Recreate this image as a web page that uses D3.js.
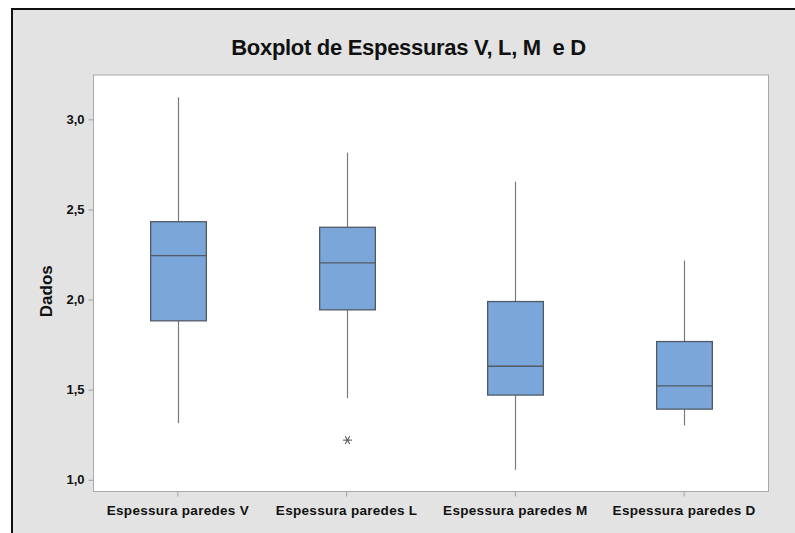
<!DOCTYPE html>
<html>
<head>
<meta charset="utf-8">
<script src="https://cdn.jsdelivr.net/npm/d3@7"></script>
<style>
  html, body { margin: 0; padding: 0; background: #ffffff; }
  svg { display: block; font-family: "Liberation Sans", Arial, sans-serif; }
</style>
</head>
<body>
<svg id="chart" width="795" height="533"></svg>
<script>
// Wall thickness groups
const categories = ["Espessura paredes V", "Espessura paredes L", "Espessura paredes M", "Espessura paredes D"];
const whiskerLow  = [1.314, 1.453, 1.055, 1.301];
const q1Values    = [1.882, 1.943, 1.470, 1.392];
const medians     = [2.244, 2.203, 1.630, 1.521];
const q3Values    = [2.432, 2.401, 1.989, 1.767];
const whiskerHigh = [3.122, 2.815, 2.654, 2.216];
const outliers    = [[], [1.220], [], []];
const yTicks = [1.0, 1.5, 2.0, 2.5, 3.0];

const svg = d3.select("#chart");
const W = 795, H = 533;
const plot = { left: 93.5, top: 75, right: 768.5, bottom: 491.5 };

// Framed gray panel
svg.append("rect").attr("x", 12).attr("y", 9).attr("width", W - 12).attr("height", H - 9)
  .attr("fill", "#e3e3e3");
svg.append("line").attr("x1", 11).attr("x2", W).attr("y1", 9).attr("y2", 9)
  .attr("stroke", "#111").attr("stroke-width", 2);
svg.append("line").attr("x1", 12).attr("x2", 12).attr("y1", 8).attr("y2", H)
  .attr("stroke", "#111").attr("stroke-width", 2);

// Plot area
svg.append("rect")
  .attr("x", plot.left).attr("y", plot.top)
  .attr("width", plot.right - plot.left).attr("height", plot.bottom - plot.top)
  .attr("fill", "#ffffff").attr("stroke", "#a9a9a9").attr("stroke-width", 1);

const x = d3.scaleBand().domain(categories).range([plot.left, plot.right]).padding(0);
const y = d3.scaleLinear().domain([0.935, 3.246]).range([plot.bottom, plot.top]);

// Axes
const fmt = d => d.toFixed(1).replace(".", ",");
const yAxis = svg.append("g").attr("transform", `translate(${plot.left},0)`)
  .call(d3.axisLeft(y).tickValues(yTicks).tickFormat(fmt).tickSize(5).tickPadding(4));
yAxis.select(".domain").remove();
yAxis.selectAll(".tick line").attr("stroke", "#a0a0a0");
yAxis.selectAll(".tick text").attr("font-size", 13).attr("font-weight", "bold")
  .attr("fill", "#111").attr("font-family", "Liberation Sans, Arial, sans-serif");

const xAxis = svg.append("g").attr("transform", `translate(0,${plot.bottom})`)
  .call(d3.axisBottom(x).tickSize(5).tickPadding(9));
xAxis.select(".domain").remove();
xAxis.selectAll(".tick line").attr("stroke", "#a0a0a0");
xAxis.selectAll(".tick text").attr("font-size", 13.5).attr("font-weight", "bold")
  .attr("fill", "#111").attr("font-family", "Liberation Sans, Arial, sans-serif")
  .attr("letter-spacing", "0.3px");

// Boxes
const boxW = x.bandwidth() * 0.33;
const data = categories.map((c, i) => ({
  c, lo: whiskerLow[i], q1: q1Values[i], med: medians[i], q3: q3Values[i], hi: whiskerHigh[i], out: outliers[i]
}));
const g = svg.append("g");
const cx = d => Math.round(x(d.c) + x.bandwidth() / 2) + 0.5;

g.selectAll(".whisker-up").data(data).join("line")
  .attr("x1", cx).attr("x2", cx).attr("y1", d => y(d.hi)).attr("y2", d => y(d.q3))
  .attr("stroke", "#7a7a7a").attr("stroke-width", 1.2);
g.selectAll(".whisker-down").data(data).join("line")
  .attr("x1", cx).attr("x2", cx).attr("y1", d => y(d.q1)).attr("y2", d => y(d.lo))
  .attr("stroke", "#7a7a7a").attr("stroke-width", 1.2);

g.selectAll(".box").data(data).join("rect")
  .attr("x", d => cx(d) - boxW / 2).attr("width", boxW)
  .attr("y", d => y(d.q3)).attr("height", d => y(d.q1) - y(d.q3))
  .attr("fill", "#7ba6d9").attr("stroke", "#505a66").attr("stroke-width", 1.3);

g.selectAll(".median").data(data).join("line")
  .attr("x1", d => cx(d) - boxW / 2).attr("x2", d => cx(d) + boxW / 2)
  .attr("y1", d => y(d.med)).attr("y2", d => y(d.med))
  .attr("stroke", "#505a66").attr("stroke-width", 1.3);

// Outliers drawn as asterisks
const outPts = data.flatMap(d => d.out.map(v => ({ c: d.c, v })));
const ast = g.selectAll(".outlier").data(outPts).join("g")
  .attr("transform", d => `translate(${cx(d)},${y(d.v)})`);
const r = 4.5;
[0, 60, 120].forEach(a => {
  const rad = a * Math.PI / 180;
  ast.append("line")
    .attr("x1", -r * Math.cos(rad)).attr("y1", -r * Math.sin(rad))
    .attr("x2", r * Math.cos(rad)).attr("y2", r * Math.sin(rad))
    .attr("stroke", "#555").attr("stroke-width", 1.1);
});

// Titles
svg.append("text").attr("x", 408.5).attr("y", 55).attr("text-anchor", "middle")
  .attr("font-size", 22).attr("font-weight", "bold").attr("fill", "#111")
  .attr("letter-spacing", "-0.3px")
  .text("Boxplot de Espessuras V, L, M  e D").style("white-space", "pre");

svg.append("text").attr("transform", `translate(52,${(plot.top + plot.bottom) / 2 + 8}) rotate(-90)`)
  .attr("text-anchor", "middle").attr("font-size", 17).attr("font-weight", "bold").attr("fill", "#111")
  .text("Dados");
</script>
</body>
</html>
